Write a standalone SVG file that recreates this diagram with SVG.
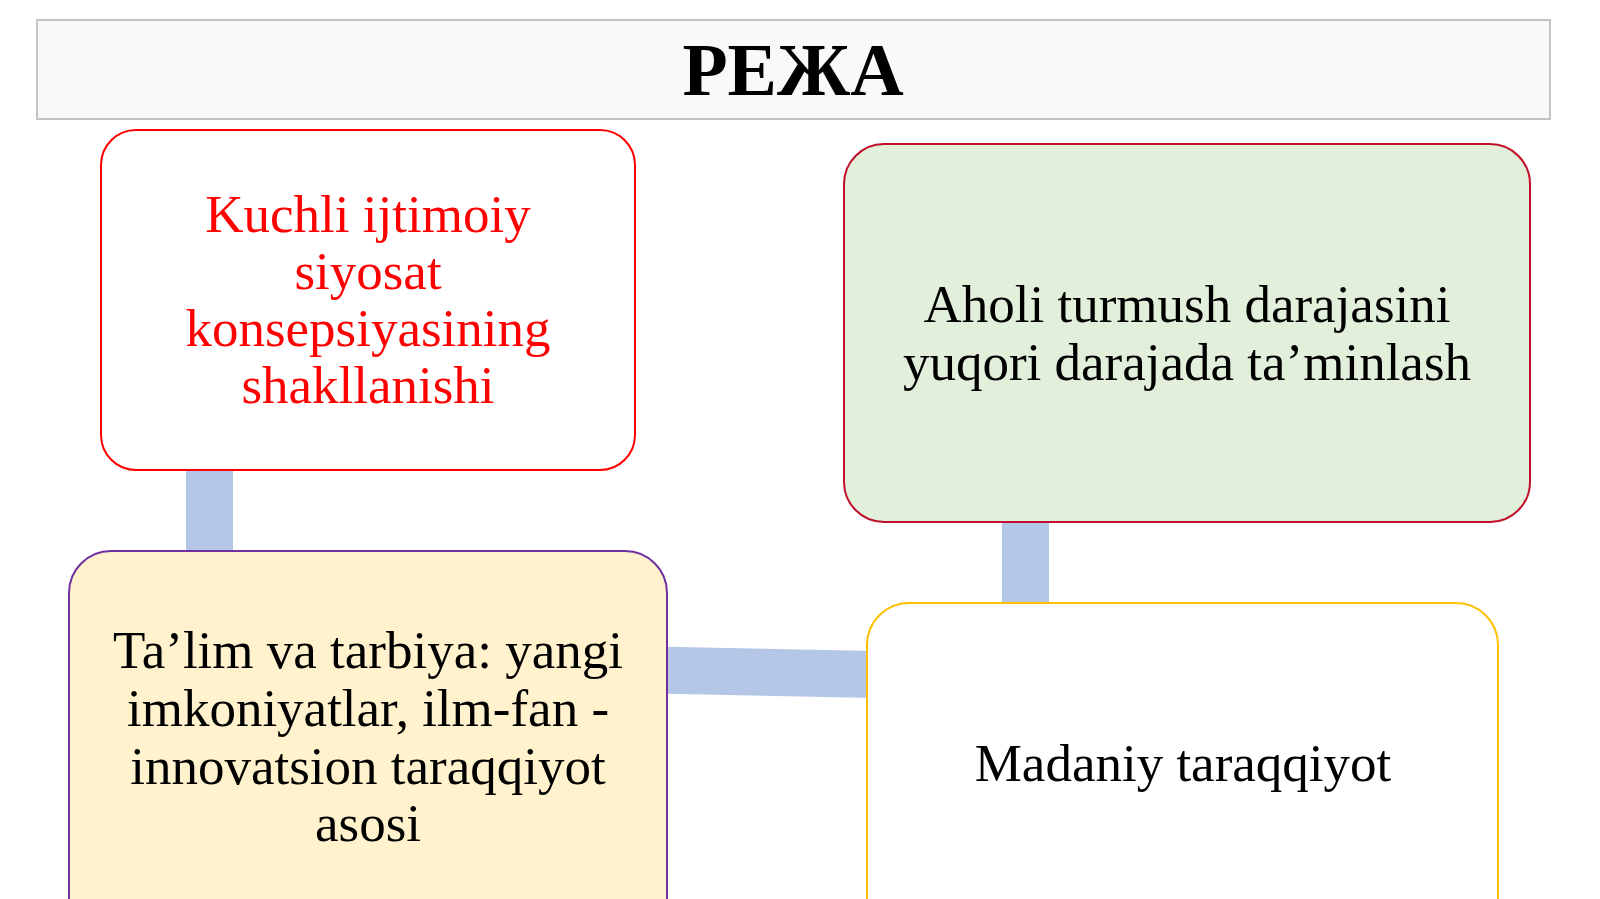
<svg xmlns="http://www.w3.org/2000/svg" width="1600" height="899" viewBox="0 0 1600 899">
  <style>
    .t { font-family: "Liberation Serif", "Times New Roman", serif; font-size: 53px; text-anchor: middle; fill: #000; }
    .red { fill: #FF0000; }
    .conn { stroke: #B4C7E7; stroke-width: 47; fill: none; }
  </style>
  <rect width="1600" height="899" fill="#FFFFFF"/>
  <g id="header">
    <rect x="37" y="20" width="1513" height="99" fill="#F9F9F9" stroke="#C4C4C4" stroke-width="2"/>
    <text x="793" y="95" style="font-family: 'Liberation Serif', 'Times New Roman', serif; font-size: 74px; font-weight: bold; text-anchor: middle; fill: #000;">РЕЖА</text>
  </g>
  <g id="connectors">
    <line class="conn" x1="209.5" y1="460" x2="209.5" y2="560"/>
    <line class="conn" x1="1025.5" y1="512" x2="1025.5" y2="612"/>
    <line class="conn" x1="655" y1="670" x2="875" y2="674.5"/>
  </g>
  <g id="node-kuchli">
    <rect x="101" y="130" width="534" height="340" rx="35" ry="35" fill="#FFFFFF" stroke="#FF0000" stroke-width="2"/>
    <text class="t red" x="368" y="232">Kuchli ijtimoiy</text>
    <text class="t red" x="368" y="289">siyosat</text>
    <text class="t red" x="368" y="346">konsepsiyasining</text>
    <text class="t red" x="368" y="403">shakllanishi</text>
  </g>
  <g id="node-aholi">
    <rect x="844" y="144" width="686" height="378" rx="40" ry="40" fill="#E2EFDA" stroke="#C0102C" stroke-width="2"/>
    <text class="t" x="1187" y="322">Aholi turmush darajasini</text>
    <text class="t" x="1187" y="380">yuqori darajada ta’minlash</text>
  </g>
  <g id="node-talim">
    <rect x="69" y="551" width="598" height="400" rx="42" ry="42" fill="#FFF2CC" stroke="#7030A0" stroke-width="2"/>
    <text class="t" x="368" y="668">Ta’lim va tarbiya: yangi</text>
    <text class="t" x="368" y="726">imkoniyatlar, ilm-fan -</text>
    <text class="t" x="368" y="784">innovatsion taraqqiyot</text>
    <text class="t" x="368" y="841">asosi</text>
  </g>
  <g id="node-madaniy">
    <rect x="867" y="603" width="631" height="400" rx="42" ry="42" fill="#FFFFFF" stroke="#FFC000" stroke-width="2"/>
    <text class="t" x="1183" y="781">Madaniy taraqqiyot</text>
  </g>
</svg>
